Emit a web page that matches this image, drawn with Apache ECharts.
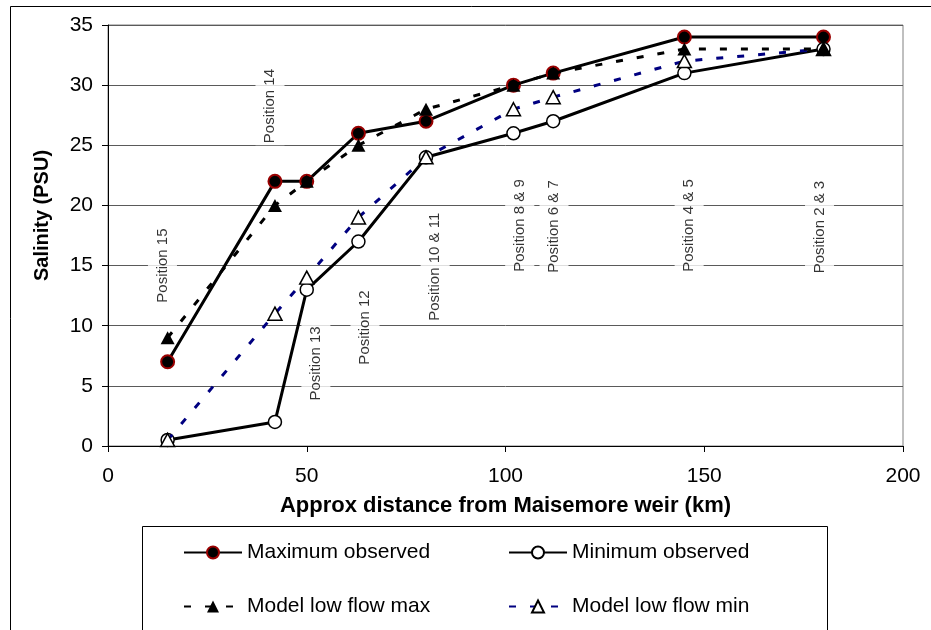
<!DOCTYPE html>
<html>
<head>
<meta charset="utf-8">
<script src="https://cdn.jsdelivr.net/npm/echarts@6/dist/echarts.min.js"></script>
<style>
  html, body { margin: 0; padding: 0; background: #ffffff; }
  #chart { width: 931px; height: 630px; }
</style>
</head>
<body>
<div id="chart"></div>
<script>
// Sampling stations along the estuary (km downstream of Maisemore weir)
const distanceKm = [15, 42, 50, 63, 80, 102, 112, 145, 180];

// Salinity (PSU) at each station
const maxObserved     = [7, 22, 22, 26, 27, 30, 31, 34, 34];
const minObserved     = [0.5, 2, 13, 17, 24, 26, 27, 31, 33];
const modelLowFlowMax = [9, 20, 22, 25, 28, 30, 31, 33, 33];
const modelLowFlowMin = [0.5, 11, 14, 19, 24, 28, 29, 32, 33];

// Station annotations, placed in data units
const positionNames    = ['Position 15', 'Position 14', 'Position 13', 'Position 12', 'Position 10 & 11',
                          'Position 8 & 9', 'Position 6 & 7', 'Position 4 & 5', 'Position 2 & 3'];
const positionKm       = [13.7, 40.75, 52.3, 64.65, 82.3, 103.6, 112.2, 146.2, 179.0];
const positionSalinity = [15.0, 28.26, 6.86, 9.85, 14.9, 18.33, 18.25, 18.33, 18.2];

// Axis scales
const xMin = 0, xMax = 200, xStep = 50;
const yMin = 0, yMax = 35, yStep = 5;

const seriesNames = ['Maximum observed', 'Minimum observed', 'Model low flow max', 'Model low flow min'];

const FONT = '"Liberation Sans", Arial, sans-serif';
const pairs = (vals) => distanceKm.map((d, i) => [d, vals[i]]);
const dash = [7, 14];

const chart = echarts.init(document.getElementById('chart'), null, { renderer: 'canvas' });

const legendBase = {
  orient: 'horizontal',
  itemWidth: 58,
  itemHeight: 15,
  padding: 0,
  textStyle: { fontFamily: FONT, fontSize: 21, color: '#000000' },
  selectedMode: false
};

chart.setOption({
  animation: false,
  backgroundColor: '#ffffff',
  textStyle: { fontFamily: FONT },
  grid: {
    left: 108, right: 28, top: 25, bottom: 184,
    show: true, borderColor: '#808080', borderWidth: 1
  },
  xAxis: {
    type: 'value',
    min: xMin, max: xMax, interval: xStep,
    name: 'Approx distance from Maisemore weir (km)',
    nameLocation: 'middle',
    nameGap: 49,
    nameTextStyle: { fontFamily: FONT, fontSize: 22, fontWeight: 'bold', color: '#000000' },
    axisLine: { show: true, onZero: false, lineStyle: { color: '#000000', width: 1 } },
    axisTick: { show: true, inside: false, length: 6, lineStyle: { color: '#000000' } },
    axisLabel: { fontFamily: FONT, fontSize: 21, color: '#000000', margin: 20 },
    splitLine: { show: false }
  },
  yAxis: {
    type: 'value',
    min: yMin, max: yMax, interval: yStep,
    name: 'Salinity (PSU)',
    nameLocation: 'middle',
    nameGap: 56,
    nameRotate: 90,
    nameTextStyle: { fontFamily: FONT, fontSize: 20, fontWeight: 'bold', color: '#000000', padding: [0, 0, 0, 40] },
    axisLine: { show: true, onZero: false, lineStyle: { color: '#000000', width: 1 } },
    axisTick: { show: true, inside: false, length: 6, lineStyle: { color: '#000000' } },
    axisLabel: { fontFamily: FONT, fontSize: 21, color: '#000000', margin: 15 },
    splitLine: { show: true, lineStyle: { color: '#5a5a5a', width: 1 } }
  },
  legend: [
    Object.assign({}, legendBase, { data: [seriesNames[0]], left: 183, top: 542 }),
    Object.assign({}, legendBase, { data: [seriesNames[1]], left: 508, top: 542 }),
    Object.assign({}, legendBase, { data: [seriesNames[2]], left: 183, top: 596 }),
    Object.assign({}, legendBase, { data: [seriesNames[3]], left: 508, top: 596 })
  ],
  graphic: [
    // outer chart frame
    { type: 'rect', shape: { x: 10.5, y: 6.5, width: 1000, height: 1000 },
      style: { fill: 'none', stroke: '#000000', lineWidth: 1 }, silent: true, z: -1 },
    // legend frame
    { type: 'rect', shape: { x: 142.5, y: 526.5, width: 685, height: 200 },
      style: { fill: 'none', stroke: '#000000', lineWidth: 1 }, silent: true, z: -1 }
  ],
  series: [
    {
      name: seriesNames[0],
      type: 'line',
      data: pairs(maxObserved),
      symbol: 'circle',
      symbolSize: 13,
      lineStyle: { color: '#000000', width: 3 },
      itemStyle: { color: '#000000', borderColor: '#990000', borderWidth: 2 },
      z: 3
    },
    {
      name: seriesNames[1],
      type: 'line',
      data: pairs(minObserved),
      symbol: 'circle',
      symbolSize: 13,
      lineStyle: { color: '#000000', width: 3 },
      itemStyle: { color: '#ffffff', borderColor: '#000000', borderWidth: 1.5 },
      z: 3
    },
    {
      name: seriesNames[3],
      type: 'line',
      data: pairs(modelLowFlowMin),
      symbol: 'triangle',
      symbolSize: [14, 13],
      lineStyle: { color: '#000080', width: 3, type: dash },
      itemStyle: { color: '#ffffff', borderColor: '#000000', borderWidth: 1.5 },
      z: 4
    },
    {
      name: seriesNames[2],
      type: 'line',
      data: pairs(modelLowFlowMax),
      symbol: 'triangle',
      symbolSize: [14, 13],
      lineStyle: { color: '#000000', width: 3, type: dash },
      itemStyle: { color: '#000000', borderColor: '#000000', borderWidth: 0 },
      z: 4
    },
    {
      name: 'stations',
      type: 'scatter',
      data: positionKm.map((x, i) => ({ value: [x, positionSalinity[i]], name: positionNames[i] })),
      symbol: 'circle',
      symbolSize: 0,
      itemStyle: { color: 'rgba(0,0,0,0)' },
      silent: true,
      z: 2,
      label: {
        show: true,
        position: 'inside',
        rotate: 90,
        formatter: (p) => p.name,
        fontFamily: FONT,
        fontSize: 15,
        color: '#000000',
        backgroundColor: '#ffffff',
        padding: [7, 2, 7, 2]
      }
    }
  ]
});
</script>
</body>
</html>
